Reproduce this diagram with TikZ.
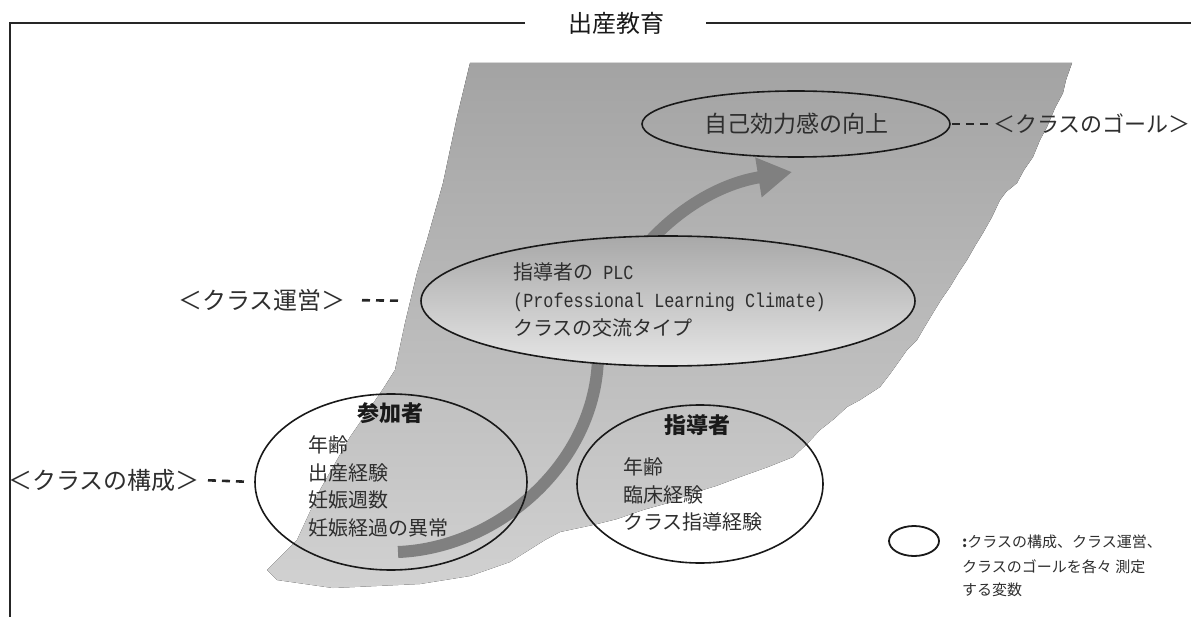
\documentclass[tikz,border=0pt]{standalone}
\usepackage{fontspec}
\setmainfont{Noto Sans CJK JP}
\newfontfamily\monofnt{Liberation Mono}[FakeStretch=0.84]
\usetikzlibrary{shapes.geometric,arrows.meta}
\begin{document}
\begin{tikzpicture}[x=1pt,y=-1pt,
  oval/.style={draw=black!90, line width=1.6pt, ellipse, inner sep=0pt},
  itm/.style={anchor=west, inner sep=0pt, text=black!82, font=\fontsize{20}{20}\selectfont},
  hd/.style={inner sep=0pt, text=black!90, font=\bfseries\fontsize{22}{22}\selectfont},
  lbl/.style={inner sep=0pt, text=black!82, font=\fontsize{24}{24}\selectfont},
  dashlink/.style={line width=2.6pt, dash pattern=on 8pt off 6pt, black!85},
  frame/.style={line width=1.6pt, black!85},
  flow/.style={line width=12pt, draw=black!50, -{Triangle[length=34pt,width=38pt]}},
  legtext/.style={anchor=west, inner sep=0pt, text=black!82, font=\fontsize{15}{15}\selectfont}
]
\useasboundingbox (0,0) rectangle (1191,617);

% background torn-paper shape
\fill[top color=black!36, bottom color=black!18]
  (470,63) -- (1072,63) -- (1066,80) -- (1063,93) -- (1055,108) -- (1047,127)
  -- (1040,140) -- (1033,157) -- (1024,170) -- (1017,183) -- (1006,192)
  -- (1000,200) -- (992,217) -- (983,233) -- (975,246) -- (967,260) -- (959,272)
  -- (950,287) -- (941,300) -- (933,313) -- (924,328) -- (917,340) -- (907,350)
  -- (900,360) -- (890,374) -- (880,387) -- (860,400) -- (847,407) -- (834,419)
  -- (820,430) -- (807,444) -- (793,457) -- (768,467) -- (740,477) -- (716,486)
  -- (693,493) -- (668,503) -- (643,510) -- (617,519) -- (593,525) -- (560,532)
  -- (545,540) -- (510,562) -- (470,576) -- (420,584) -- (333,588) -- (277,580)
  -- (267,570) -- (297,540) -- (320,490) -- (350,437) -- (383,389) -- (395,370)
  -- (405,323) -- (417,273) -- (427,240) -- (443,183) -- (457,117) -- cycle;

% frame and title
\node[inner sep=0pt, text=black!90, font=\fontsize{24}{24}\selectfont] (title) at (616,23) {出産教育};
\coordinate (fL) at (525,23);
\coordinate (fR) at (706,23);
\draw[frame] (fL) -- (10,23) -- (10,617);
\draw[frame] (fR) -- (1191,23);

% flow arrow (drawn first, hidden under the PLC ellipse)
\coordinate (a0) at (398,552);
\coordinate (a1) at (598,350);
\coordinate (a2) at (792,172);
\draw[flow] (a0) .. controls (500,548) and (600,460) .. (a1)
                 .. controls (602,275) and (680,190) .. (a2);

% goal
\node[oval, minimum width=308pt, minimum height=66pt, text=black!82,
      font=\fontsize{23}{23}\selectfont] (goal) at (796,124) {自己効力感の向上};
\node[lbl, anchor=west, font=\fontsize{22}{22}\selectfont] (goallbl) at (993,124) {＜クラスのゴール＞};
\draw[dashlink, shorten <=1pt, shorten >=3pt] (goal.east) -- (goallbl.west);

% class management
\node[oval, minimum width=494pt, minimum height=130pt, top color=black!34, bottom color=black!10] (plc) at (668,301) {};
\node[itm] (plc1) at (513,272) {指導者の{\monofnt\fontsize{20}{20}\selectfont\ PLC}};
\node[itm, font=\monofnt\fontsize{20}{20}\selectfont] (plc2) at (513,302) {(Professional Learning Climate)};
\node[itm] (plc3) at (513,328) {クラスの交流タイプ};
\node[lbl, anchor=east] (runlbl) at (346,300) {＜クラス運営＞};
\draw[dashlink, shorten <=16pt, shorten >=21pt] (runlbl.east) -- (plc.west);

% participants
\node[oval, minimum width=272pt, minimum height=176pt] (part) at (391,482) {};
\node[hd] (parthd) at (390,413) {参加者};
\node[itm] (p1) at (308,445) {年齢};
\node[itm] (p2) at (308,472.5) {出産経験};
\node[itm] (p3) at (308,500) {妊娠週数};
\node[itm] (p4) at (308,527.5) {妊娠経過の異常};
\node[lbl, anchor=east] (complbl) at (200,480) {＜クラスの構成＞};
\draw[dashlink, shorten <=8pt, shorten >=7pt] (complbl.east) -- (part.west);

% instructors
\node[oval, minimum width=246pt, minimum height=158pt] (inst) at (700,484) {};
\node[hd] (insthd) at (697,425) {指導者};
\node[itm] (i1) at (623,467) {年齢};
\node[itm] (i2) at (623,495) {臨床経験};
\node[itm] (i3) at (623,522) {クラス指導経験};

% legend
\node[oval, line width=1.8pt, minimum width=50pt, minimum height=30pt] (legov) at (914,541) {};
\node[legtext] (leg1) at (962,542) {{\bfseries :}クラスの構成、クラス運営、};
\node[legtext] (leg2) at (962,567) {クラスのゴールを各々 測定};
\node[legtext] (leg3) at (962,590) {する変数};
\end{tikzpicture}
\end{document}
